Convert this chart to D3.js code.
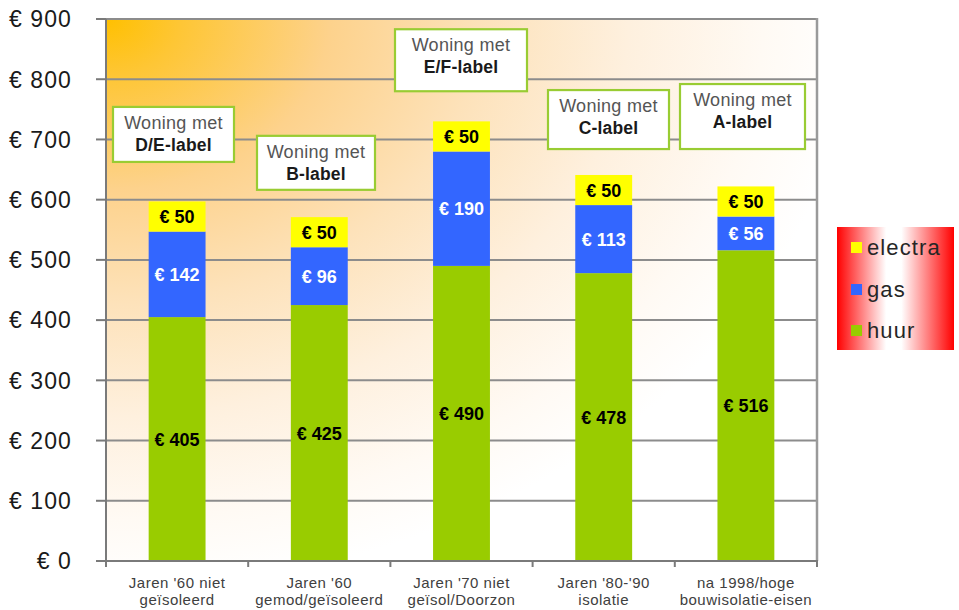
<!DOCTYPE html>
<html>
<head>
<meta charset="utf-8">
<script src="https://cdn.jsdelivr.net/npm/d3@7"></script>
<style>
  html, body { margin: 0; padding: 0; background: #ffffff; }
  svg { display: block; font-family: "Liberation Sans", Arial, sans-serif; }
</style>
</head>
<body>
<svg id="chart" width="959" height="610"></svg>
<script>
// ---- data ----
const categories = [
  "Jaren '60 niet\ngeïsoleerd",
  "Jaren '60\ngemod/geïsoleerd",
  "Jaren '70 niet\ngeïsol/Doorzon",
  "Jaren '80-'90\nisolatie",
  "na 1998/hoge\nbouwisolatie-eisen"
];
const huur    = [405, 425, 490, 478, 516];
const gas     = [142, 96, 190, 113, 56];
const electra = [50, 50, 50, 50, 50];
const seriesNames = ["electra", "gas", "huur"];
const yTicks = [0, 100, 200, 300, 400, 500, 600, 700, 800, 900];
const boxTitle = "Woning met";
const boxLabels = ["D/E-label", "B-label", "E/F-label", "C-label", "A-label"];

// ---- layout (kept separate from data) ----
const plot = { left: 106, right: 817, top: 19, bottom: 561 };
const colors = { huur: "#99CC00", gas: "#3366FF", electra: "#FFFF00" };
// annotation boxes: top (in axis units), dx from band centre, width, height (px)
const boxLayout = [
  { top: 754, dx: -3.6, w: 121, h: 55 },
  { top: 706, dx: -3.3, w: 118, h: 54 },
  { top: 883, dx: -0.5, w: 132, h: 62 },
  { top: 782, dx: 4.8,  w: 121, h: 59 },
  { top: 792, dx: -3.4, w: 125, h: 65 }
];

const svg = d3.select("#chart");
const defs = svg.append("defs");

const bg = defs.append("radialGradient").attr("id", "bgGrad")
  .attr("cx", 0).attr("cy", 0).attr("fx", 0).attr("fy", 0).attr("r", 1.05);
[[0, "#FFC000"], [0.1, "#FEC635"], [0.3, "#FDD28C"], [0.5, "#FDE2BA"], [0.7, "#FEF0DE"], [0.88, "#FFFAF4"], [1, "#FFFFFF"]]
  .forEach(([o, c]) => bg.append("stop").attr("offset", o).attr("stop-color", c));

const lg = defs.append("linearGradient").attr("id", "legGrad")
  .attr("x1", 0).attr("x2", 1).attr("y1", 0).attr("y2", 0);
[[0, "#FF0000"], [0.42, "#FFFFFF"], [0.55, "#FFFFFF"], [1, "#FF0000"]]
  .forEach(([o, c]) => lg.append("stop").attr("offset", o).attr("stop-color", c));

// ---- scales ----
const x = d3.scaleBand().domain(categories)
  .range([plot.left, plot.right]).paddingInner(0.6).paddingOuter(0.3);
const y = d3.scaleLinear().domain([0, 900]).range([plot.bottom, plot.top]);

// background
svg.append("rect")
  .attr("x", plot.left).attr("y", plot.top)
  .attr("width", plot.right - plot.left).attr("height", plot.bottom - plot.top)
  .attr("fill", "url(#bgGrad)");

// gridlines
svg.append("g").selectAll("line").data(yTicks.filter(d => d > 0)).join("line")
  .attr("x1", plot.left).attr("x2", plot.right)
  .attr("y1", d => y(d)).attr("y2", d => y(d))
  .attr("stroke", "#8C8C8C").attr("stroke-width", 2);

// right border
svg.append("line")
  .attr("x1", plot.right).attr("x2", plot.right)
  .attr("y1", plot.top - 1).attr("y2", plot.bottom)
  .attr("stroke", "#9A9A9A").attr("stroke-width", 2.5);

// stacked bars
const rows = categories.map((c, i) => ({ cat: c, huur: huur[i], gas: gas[i], electra: electra[i] }));
const stack = d3.stack().keys(["huur", "gas", "electra"])(rows);
const bw = x.bandwidth();

stack.forEach(layer => {
  const key = layer.key;
  const g = svg.append("g");
  g.selectAll("rect").data(layer).join("rect")
    .attr("x", d => x(d.data.cat))
    .attr("y", d => y(d[1]))
    .attr("width", bw)
    .attr("height", d => y(d[0]) - y(d[1]))
    .attr("fill", colors[key]);
  g.selectAll("text").data(layer).join("text")
    .attr("x", d => x(d.data.cat) + bw / 2)
    .attr("y", d => (y(d[0]) + y(d[1])) / 2)
    .attr("dy", "0.36em")
    .attr("text-anchor", "middle")
    .attr("font-weight", "bold")
    .attr("font-size", 18)
    .attr("fill", key === "gas" ? "#FFFFFF" : "#000000")
    .text(d => "€ " + d.data[key]);
});

// y axis
const yAxis = svg.append("g");
yAxis.append("line")
  .attr("x1", plot.left).attr("x2", plot.left)
  .attr("y1", plot.top).attr("y2", plot.bottom + 5)
  .attr("stroke", "#7A7A7A").attr("stroke-width", 2);
yAxis.selectAll("line.tick").data(yTicks).join("line").attr("class", "tick")
  .attr("x1", plot.left - 10).attr("x2", plot.left)
  .attr("y1", d => y(d)).attr("y2", d => y(d))
  .attr("stroke", "#7A7A7A").attr("stroke-width", 2);
yAxis.selectAll("text").data(yTicks).join("text")
  .attr("x", 72).attr("y", d => y(d)).attr("dy", "0.36em")
  .attr("text-anchor", "end")
  .attr("font-size", 23).attr("letter-spacing", 1.1)
  .attr("fill", "#1a1a1a")
  .text(d => "€ " + d);

// x axis
const xAxis = svg.append("g");
xAxis.append("line")
  .attr("x1", plot.left - 1).attr("x2", plot.right + 1)
  .attr("y1", plot.bottom).attr("y2", plot.bottom)
  .attr("stroke", "#7A7A7A").attr("stroke-width", 2);
const step = x.step();
const boundaries = d3.range(categories.length + 1).map(i => plot.left + i * step);
xAxis.selectAll("line.tick").data(boundaries).join("line").attr("class", "tick")
  .attr("x1", d => d).attr("x2", d => d)
  .attr("y1", plot.bottom).attr("y2", plot.bottom + 6)
  .attr("stroke", "#7A7A7A").attr("stroke-width", 2);
xAxis.selectAll("text").data(categories).join("text")
  .attr("x", d => x(d) + bw / 2)
  .attr("y", 588)
  .attr("text-anchor", "middle")
  .attr("font-size", 15).attr("letter-spacing", 0.5)
  .attr("fill", "#404040")
  .each(function(d) {
    const t = d3.select(this);
    d.split("\n").forEach((line, i) => {
      t.append("tspan").attr("x", x(d) + bw / 2).attr("dy", i === 0 ? 0 : 17).text(line);
    });
  });

// annotation boxes
const ann = svg.append("g");
boxLabels.forEach((lab, i) => {
  const L = boxLayout[i];
  const cx = x(categories[i]) + bw / 2 + L.dx;
  const top = y(L.top);
  ann.append("rect")
    .attr("x", cx - L.w / 2).attr("y", top)
    .attr("width", L.w).attr("height", L.h)
    .attr("fill", "#FFFFFF").attr("stroke", "#99CC33").attr("stroke-width", 2.2);
  ann.append("text")
    .attr("x", cx).attr("y", top + 22)
    .attr("text-anchor", "middle").attr("font-size", 18).attr("letter-spacing", 0.3)
    .attr("fill", "#555555").text(boxTitle);
  ann.append("text")
    .attr("x", cx).attr("y", top + 44)
    .attr("text-anchor", "middle").attr("font-size", 17.5).attr("font-weight", "bold")
    .attr("letter-spacing", 0.2)
    .attr("fill", "#1a1a1a").text(lab);
});

// legend
const leg = svg.append("g").attr("transform", "translate(837,227)");
leg.append("rect").attr("width", 117).attr("height", 123).attr("fill", "url(#legGrad)");
const legY = [20, 62, 103];
seriesNames.forEach((s, i) => {
  leg.append("rect").attr("x", 14).attr("y", legY[i] - 5).attr("width", 11).attr("height", 11)
    .attr("fill", colors[s]);
  leg.append("text").attr("x", 30).attr("y", legY[i]).attr("dy", "0.36em")
    .attr("font-size", 22).attr("letter-spacing", 1.1).attr("fill", "#262626").text(s);
});
</script>
</body>
</html>
